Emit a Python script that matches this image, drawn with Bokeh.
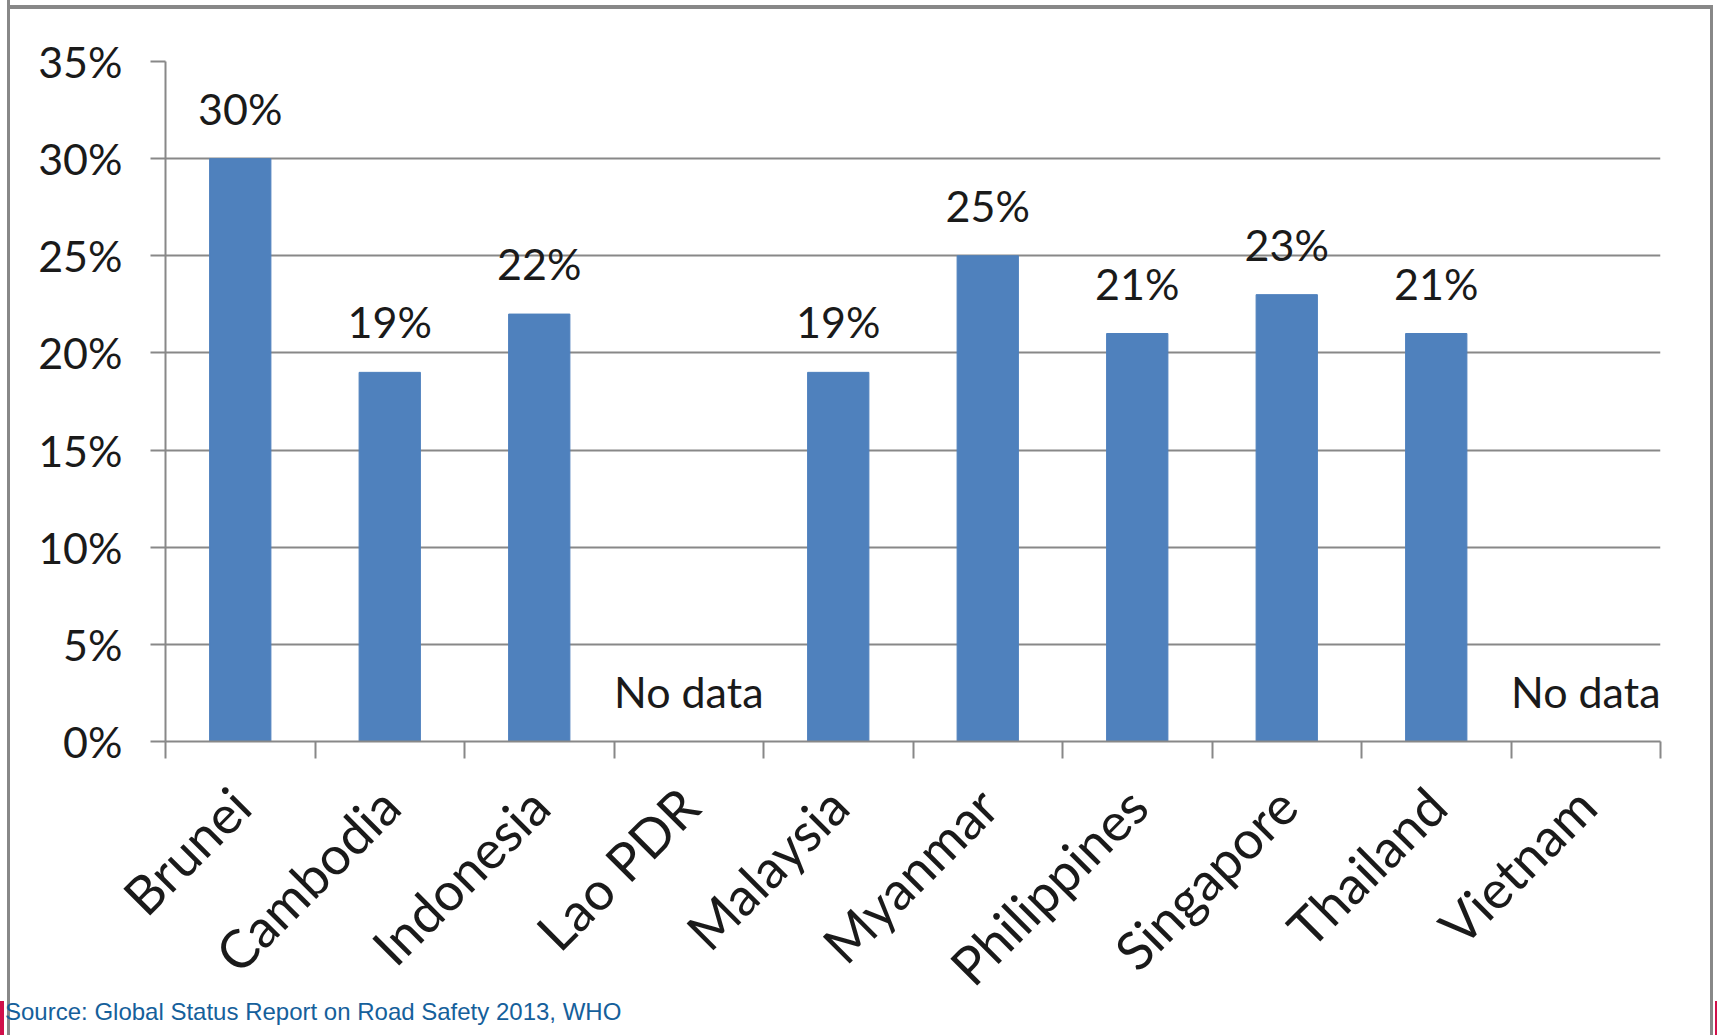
import math
from bokeh.plotting import figure
from bokeh.layouts import column
from bokeh.models import (ColumnDataSource, Range1d, LinearAxis, Div,
                          FixedTicker, PrintfTickFormatter, LabelSet, Grid,
                          CustomJSTickFormatter)
from bokeh.core.properties import value
from bokeh.embed import file_html
from bokeh.resources import INLINE

# ---- data ----
countries = ["Brunei", "Cambodia", "Indonesia", "Lao PDR", "Malaysia",
             "Myanmar", "Philippines", "Singapore", "Thailand", "Vietnam"]
values = [30, 19, 22, None, 19, 25, 21, 23, 21, None]
y_ticks = [0, 5, 10, 15, 20, 25, 30, 35]
no_data_text = "No data"
source_note = "Source: Global Status Report on Road Safety 2013, WHO"

# ---- style ----
FONT = "Lato"
FS = "43px"
XFS = "53px"
GREY = "#888888"
BAR = "#4F81BD"
TXT = "#1a1a1a"
RED = "#D0104A"
NOTE = "#15609B"

W, PH, NH = 1717, 1023, 35

n = len(countries)
centers = [i + 0.5 for i in range(n)]      # category slot centres
bounds = list(range(n + 1))                # category slot boundaries

p = figure(width=W, height=PH,
           x_range=Range1d(0, n),
           y_range=Range1d(0, y_ticks[-1]),
           x_axis_type=None, y_axis_type=None,
           output_backend="svg", toolbar_location=None,
           min_border_left=165, min_border_right=57,
           min_border_top=61, min_border_bottom=282)
p.outline_line_color = None
p.background_fill_color = "white"
p.border_fill_color = None

# horizontal gridlines
grid = Grid(dimension=1, ticker=FixedTicker(ticks=y_ticks),
            grid_line_color=GREY, grid_line_width=2)
p.add_layout(grid, "center")

# y axis
yaxis = LinearAxis(ticker=FixedTicker(ticks=y_ticks),
                   formatter=PrintfTickFormatter(format="%d%%"),
                   major_tick_out=15, major_tick_in=0,
                   minor_tick_out=0, minor_tick_in=0,
                   axis_line_color=GREY, axis_line_width=2,
                   major_tick_line_color=GREY, major_tick_line_width=2,
                   major_label_standoff=28,
                   major_label_text_font=FONT, major_label_text_font_size=FS,
                   major_label_text_color=TXT)
p.add_layout(yaxis, "left")

# x axis: labels at slot centres, tick marks (minor) at slot boundaries
xaxis = LinearAxis(ticker=FixedTicker(ticks=centers, minor_ticks=bounds),
                   formatter=CustomJSTickFormatter(args=dict(names=countries),
                                                   code="return names[Math.round(tick - 0.5)];"),
                   axis_line_color=GREY, axis_line_width=2,
                   major_tick_line_color=None, major_tick_out=0, major_tick_in=0,
                   minor_tick_line_color=GREY, minor_tick_line_width=2,
                   minor_tick_out=17, minor_tick_in=0,
                   major_label_orientation=math.pi / 4,
                   major_label_standoff=38,
                   major_label_text_font=FONT, major_label_text_font_size=XFS,
                   major_label_text_color=TXT)
p.add_layout(xaxis, "below")

# bars
bar_src = ColumnDataSource(dict(
    x=[c for c, v in zip(centers, values) if v is not None],
    value=[v for v in values if v is not None]))
p.vbar(x="x", top="value", width=0.41, source=bar_src,
       fill_color=BAR, line_color=BAR)

# data labels
lab_src = ColumnDataSource(dict(
    x=centers,
    y=[v if v is not None else 0 for v in values],
    text=[f"{v}%" if v is not None else no_data_text for v in values]))
p.add_layout(LabelSet(x="x", y="y", text="text", source=lab_src,
                      y_offset=34, text_align="center", text_baseline="alphabetic",
                      text_font=value(FONT), text_font_size=value(FS),
                      text_color=TXT))

# source note below the chart (pulled up over the figure's empty bottom strip)
note = Div(text=(f'<div style="font-family:\'Liberation Sans\',Arial,sans-serif;'
                 f'font-size:24px;line-height:24px;color:{NOTE};margin-left:5px;'
                 f'white-space:nowrap">{source_note}</div>'),
           width=800, height=NH, margin=(-23, 0, 0, 0))

layout = column(p, note, spacing=0)
layout.styles = {
    "background": (
        f"linear-gradient({GREY},{GREY}) left 7px top 0px / 3px 100% no-repeat, "
        f"linear-gradient({GREY},{GREY}) left 7px top 5px / calc(100% - 11px) 4px no-repeat, "
        f"linear-gradient({GREY},{GREY}) right 4px top 5px / 3px 100% no-repeat, "
        f"linear-gradient({RED},{RED}) left 0px top 1001px / 4px 34px no-repeat, "
        f"linear-gradient({RED},{RED}) right 0px top 1001px / 2px 34px no-repeat, "
        "white"
    )
}

open("out.html", "w").write(file_html(layout, INLINE))
